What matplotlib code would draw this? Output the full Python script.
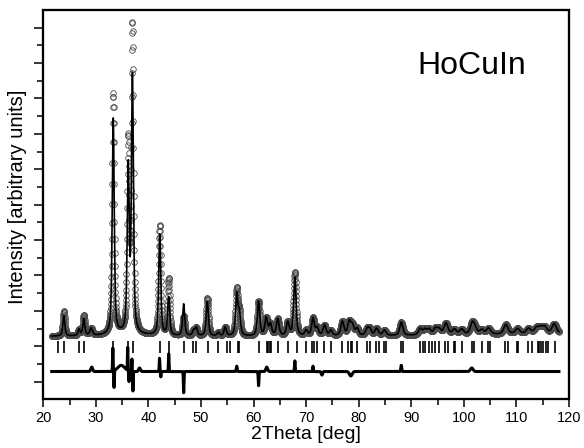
import matplotlib
matplotlib.use("Agg")
import matplotlib.pyplot as plt
import numpy as np
from matplotlib.patches import Rectangle
from matplotlib.ticker import MultipleLocator

plt.rcParams["font.family"] = ["Liberation Sans", "DejaVu Sans"]

# Reflections read off the pattern: position [deg], observed / calculated
# height above background, and FWHM [deg]
peak_pos = [23.9, 26.8, 27.7, 29.1, 33.3, 36.15, 36.95, 42.15, 43.85, 46.7,
            48.6, 49.1, 51.2, 53.3, 54.6, 56.8, 57.3, 60.95, 62.4, 63.2,
            64.6, 66.5, 67.85, 70.0, 71.3, 72.1, 73.5, 74.7, 76.9, 78.2,
            78.8, 79.7, 81.6, 82.1, 83.4, 84.9, 88.1, 91.7, 92.6, 93.4,
            94.6, 95.3, 96.6, 98.2, 99.6, 101.6, 102.1, 103.4, 104.7, 108.0,
            110.2, 112.3, 113.8, 114.6, 115.4, 117.2]
peak_obs = [1.4, 0.35, 1.15, 0.4, 13.6, 10.6, 17.2, 6.2, 3.2, 1.1,
            0.3, 0.45, 2.15, 0.2, 0.5, 2.6, 1.2, 1.95, 1.0, 0.65,
            0.95, 0.75, 3.6, 0.3, 1.0, 0.45, 0.6, 0.3, 0.8, 0.75,
            0.55, 0.4, 0.35, 0.35, 0.4, 0.3, 0.75, 0.35, 0.3, 0.3,
            0.35, 0.3, 0.65, 0.3, 0.3, 0.6, 0.3, 0.25, 0.35, 0.55,
            0.3, 0.3, 0.3, 0.3, 0.35, 0.55]
peak_calc = [1.15, 0.35, 0.95, 0.4, 12.2, 9.2, 14.4, 5.7, 2.15, 1.8,
             0.3, 0.45, 1.95, 0.2, 0.5, 2.3, 1.2, 1.95, 1.0, 0.65,
             0.95, 0.75, 3.3, 0.3, 1.0, 0.45, 0.6, 0.3, 0.8, 0.75,
             0.55, 0.4, 0.35, 0.35, 0.4, 0.3, 0.75, 0.35, 0.3, 0.3,
             0.35, 0.3, 0.65, 0.3, 0.3, 0.6, 0.3, 0.25, 0.35, 0.55,
             0.3, 0.3, 0.3, 0.3, 0.35, 0.55]
peak_fwhm = [0.45, 0.45, 0.45, 0.6, 0.45, 0.45, 0.45, 0.47, 0.47, 0.47,
             0.5, 0.5, 0.5, 0.5, 0.52, 0.52, 0.52, 0.55, 0.6, 0.6,
             0.6, 0.6, 0.55, 0.6, 0.6, 0.6, 0.65, 0.65, 0.7, 0.7,
             0.7, 0.7, 0.7, 0.7, 0.75, 0.75, 0.7, 0.8, 0.8, 0.8,
             0.8, 0.8, 0.9, 0.9, 0.9, 0.9, 0.9, 0.9, 0.95, 0.95,
             1.0, 1.0, 1.0, 1.0, 1.0, 1.0]

# background knots
bg_x = [21.6, 30.0, 33.0, 35.0, 38.0, 45.0, 60.0, 80.0, 100.0, 118.1]
bg_y = [3.56, 3.58, 3.62, 3.66, 3.62, 3.56, 3.55, 3.57, 3.63, 3.7]

# difference curve features: position, amplitude, width
diff_pos = [29.2, 33.22, 33.45, 34.8, 36.05, 36.3, 36.85, 37.05, 38.3, 42.1,
            42.35, 43.85, 46.7, 56.8, 60.95, 62.5, 67.85, 71.3, 73.0, 78.5,
            88.1, 101.5]
diff_amp = [0.25, 1.3, -0.95, 0.35, 1.3, -0.6, 0.7, -1.1, 0.2, 0.75,
            -0.3, 1.0, -1.2, 0.3, -0.8, 0.25, 0.6, 0.3, -0.2, -0.25,
            0.35, 0.2]
diff_w = [0.4, 0.12, 0.12, 1.6, 0.12, 0.12, 0.1, 0.12, 0.4, 0.12,
          0.12, 0.12, 0.14, 0.2, 0.15, 0.4, 0.15, 0.15, 0.3, 0.6,
          0.2, 0.6]
diff_base = 1.57

# Bragg reflection markers
bragg_pos = [22.72, 23.99, 26.77, 27.78, 33.28, 36.12, 37.07, 42.12, 43.83,
             46.73, 48.57, 49.08, 51.28, 53.3, 54.96, 55.52, 56.97, 57.29,
             60.95, 62.54, 62.79, 63.11, 63.41, 64.74, 66.63, 68.22, 70.0,
             71.2, 71.5, 72.14, 73.4, 74.67, 76.87, 78.0, 78.46, 78.77,
             79.72, 81.61, 82.07, 83.32, 83.83, 84.78, 85.21, 88.13, 88.38,
             91.73, 92.17, 92.68, 93.31, 93.94, 94.58, 95.2, 96.47, 96.97,
             98.05, 98.37, 99.6, 101.5, 102.0, 103.4, 104.55, 105.0, 107.85,
             108.34, 110.05, 110.37, 112.26, 112.9, 114.03, 114.29, 114.67,
             115.1, 115.55, 116.05, 117.33]

tt_start, tt_end, tt_step = 21.6, 118.1, 0.03
x_lim = (20, 120)
y_lim = (0, 22)


def profile(x, heights):
    y = np.interp(x, bg_x, bg_y)
    for p, h, w in zip(peak_pos, heights, peak_fwhm):
        d2 = 4.0 * (x - p) ** 2 / w ** 2
        y = y + h * (0.6 / (1.0 + d2) + 0.4 * np.exp(-np.log(2) * d2))
    return y


tt_fine = np.arange(tt_start, tt_end, 0.005)
tt_obs = np.arange(tt_start, tt_end, tt_step)
y_calc = profile(tt_fine, peak_calc)
y_obs = profile(tt_obs, peak_obs)

y_diff = np.full_like(tt_fine, diff_base)
for p, a, w in zip(diff_pos, diff_amp, diff_w):
    y_diff += a * np.exp(-4 * np.log(2) * (tt_fine - p) ** 2 / w ** 2)

fig = plt.figure(figsize=(5.84, 4.48), dpi=100)
ax = fig.add_axes([0.0742, 0.1087, 0.9, 0.869])

ax.plot(tt_obs, y_obs, "o", ms=4.0, mfc="none", mec="#4a4a4a", mew=0.6)
ax.plot(tt_fine, y_calc, color="black", lw=1.2)
ax.vlines(bragg_pos, 2.63, 3.27, color="black", lw=1.2)
ax.plot(tt_fine, y_diff, color="black", lw=2.2)

ax.set_xlim(*x_lim)
ax.set_ylim(*y_lim)
ax.xaxis.set_major_locator(MultipleLocator(10))
ax.xaxis.set_minor_locator(MultipleLocator(5))
ax.set_yticks(np.arange(1, 22, 2))
ax.set_yticks(np.arange(2, 21, 2), minor=True)
ax.set_yticklabels([])
ax.tick_params(axis="x", which="major", length=6, width=1.1, direction="out",
               labelsize=10.5, pad=2.5)
ax.tick_params(axis="x", which="minor", length=4, width=1.1, direction="out")
ax.tick_params(axis="y", which="major", length=6.5, width=1.1, direction="out")
ax.tick_params(axis="y", which="minor", length=4.3, width=1.1, direction="out")
for s in ax.spines.values():
    s.set_visible(True)
    s.set_linewidth(1.5)
    s.set_color("black")

# full frame as a patch so all four sides are drawn
ax.add_patch(Rectangle((0, 0), 1, 1, transform=ax.transAxes, fill=False,
                       edgecolor="black", lw=1.6, clip_on=False, zorder=6))

ax.set_xlabel("2Theta [deg]", fontsize=14)
ax.xaxis.set_label_coords(0.5, -0.068)
ax.set_ylabel("Intensity [arbitrary units]", fontsize=14.5)
ax.yaxis.set_label_coords(-0.031, 0.521)

ax.text(0.815, 0.857, "HoCuIn", transform=ax.transAxes, fontsize=23,
        ha="center", va="center")

fig.savefig("out.png", dpi=100)
